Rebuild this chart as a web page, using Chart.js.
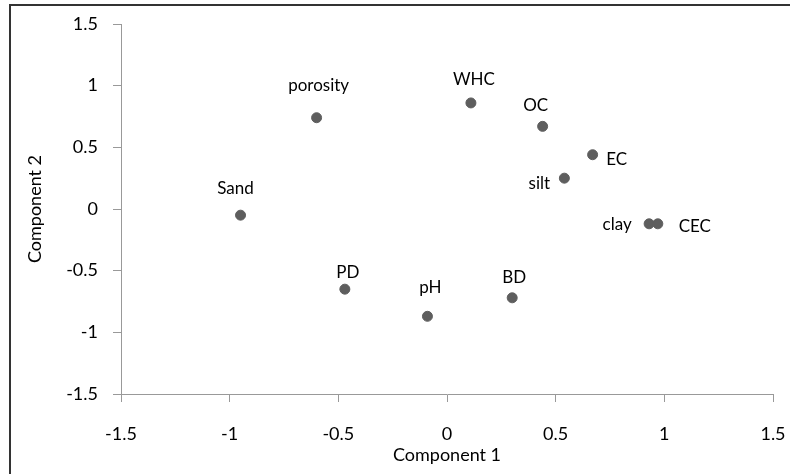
<!DOCTYPE html>
<html>
<head>
<meta charset="utf-8">
<script src="https://cdn.jsdelivr.net/npm/chart.js@4/dist/chart.umd.min.js"></script>
<style>
  html, body { margin: 0; padding: 0; background: #fff; }
  #wrap { position: relative; width: 790px; height: 474px; overflow: hidden; }
  #frame { position: absolute; left: 9px; top: 4px; width: 800px; height: 500px;
           border-top: 2px solid #333; border-left: 2px solid #333; box-sizing: border-box; }
  canvas { position: absolute; left: 0; top: 0; }
</style>
</head>
<body>
<div id="wrap">
  <div id="frame"></div>
  <canvas id="pcaChart" width="790" height="474"></canvas>
</div>
<script>
const variables = ['porosity', 'WHC', 'OC', 'EC', 'silt', 'clay', 'CEC', 'Sand', 'PD', 'pH', 'BD'];
const comp1 = [-0.60, 0.11, 0.44, 0.67, 0.54, 0.93, 0.97, -0.95, -0.47, -0.09, 0.30];
const comp2 = [0.74, 0.86, 0.67, 0.44, 0.25, -0.12, -0.12, -0.05, -0.65, -0.87, -0.72];
const axisTicks = [-1.5, -1, -0.5, 0, 0.5, 1, 1.5];

// where each name sits relative to its dot (px)
const labelOffsets = [[2, -32], [3, -23], [-7, -21], [24, 5], [-25, 5], [-32, 1], [37, 3],
                      [-5, -27], [3, -17], [3, -29], [2, -20]];

const FONT = 'Lato, "Open Sans", sans-serif';

const pointLabels = {
    id: 'pointLabels',
    afterDatasetsDraw(chart) {
        const ctx = chart.ctx;
        const meta = chart.getDatasetMeta(0);
        ctx.save();
        ctx.font = '17px ' + FONT;
        ctx.fillStyle = '#000';
        ctx.textAlign = 'center';
        ctx.textBaseline = 'middle';
        meta.data.forEach(function(pt, i) {
            const off = labelOffsets[i];
            ctx.fillText(variables[i], pt.x + off[0], pt.y + off[1]);
        });
        ctx.restore();
    }
};

function setTicks(s) {
    s.ticks = axisTicks.map(function(v) { return { value: v }; });
}

const ctx = document.getElementById('pcaChart').getContext('2d');
new Chart(ctx, {
    type: 'scatter',
    data: {
        datasets: [{
            data: comp1.map(function(x, i) { return { x: x, y: comp2[i] }; }),
            backgroundColor: '#5e5e5e',
            borderColor: '#5e5e5e',
            pointRadius: 5,
            pointHoverRadius: 5
        }]
    },
    options: {
        responsive: false,
        animation: false,
        layout: { padding: { top: 24, right: 17, left: 0, bottom: 0 } },
        plugins: { legend: { display: false }, tooltip: { enabled: false } },
        scales: {
            x: {
                type: 'linear',
                min: -1.5, max: 1.5,
                afterBuildTicks: setTicks,
                afterFit: function(s) { s.height = 80; s.paddingLeft = 0; s.paddingRight = 0; },
                grid: { drawOnChartArea: false, drawTicks: true, tickLength: 8, color: '#999' },
                border: { display: true, color: '#999', width: 1 },
                ticks: { color: '#000', font: { family: FONT, size: 18 }, padding: 21, maxRotation: 0,
                         callback: function(v) { return String(v); } },
                title: { display: true, text: 'Component 1', color: '#000',
                         font: { family: FONT, size: 18 }, padding: { top: 0, bottom: 8 } }
            },
            y: {
                type: 'linear',
                min: -1.5, max: 1.5,
                afterBuildTicks: setTicks,
                afterFit: function(s) { s.width = 121; s.paddingTop = 0; s.paddingBottom = 0; },
                grid: { drawOnChartArea: false, drawTicks: true, tickLength: 8, color: '#999' },
                border: { display: true, color: '#999', width: 1 },
                ticks: { color: '#000', font: { family: FONT, size: 18 }, padding: 15,
                         callback: function(v) { return String(v); } },
                title: { display: true, text: 'Component 2', color: '#000',
                         font: { family: FONT, size: 18 }, padding: { top: 24, bottom: 0 } }
            }
        }
    },
    plugins: [pointLabels]
});
</script>
</body>
</html>
